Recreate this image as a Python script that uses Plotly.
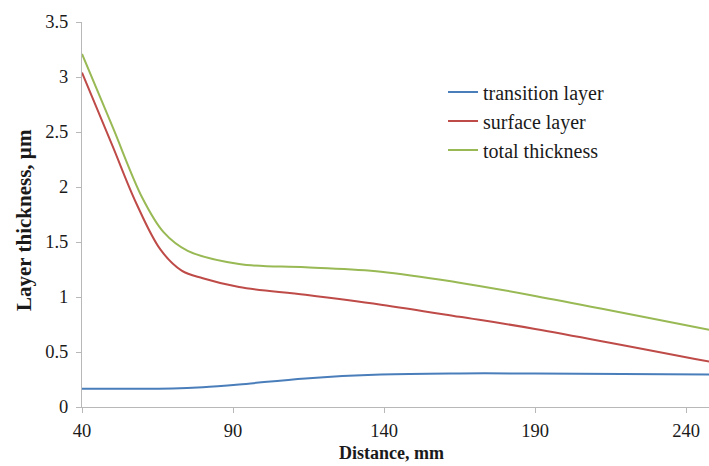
import plotly.graph_objects as go

# Measured layer thickness (µm) against distance (mm)
distance_tl = [40, 55, 70, 80, 92, 114, 139, 165, 190, 250]
transition_layer = [0.165, 0.165, 0.168, 0.18, 0.205, 0.26, 0.295, 0.305, 0.305, 0.295]

distance_sl = [40, 50, 58, 66, 73, 80, 92, 114, 139, 165, 190, 250]
surface_layer = [3.04, 2.38, 1.85, 1.43, 1.24, 1.17, 1.09, 1.02, 0.93, 0.82, 0.71, 0.40]

distance_tt = [40, 50, 60, 67, 75, 92, 114, 139, 165, 190, 250]
total_thickness = [3.21, 2.555, 1.90, 1.59, 1.42, 1.30, 1.27, 1.23, 1.13, 1.01, 0.69]

x_ticks = [40, 90, 140, 190, 240]
y_ticks = [0, 0.5, 1, 1.5, 2, 2.5, 3, 3.5]
y_tick_text = ["0", "0.5", "1", "1.5", "2", "2.5", "3", "3.5"]

FONT = "Liberation Serif"
TEXT = "#1a1a1a"
AXIS_GREY = "#b8b8b8"

series = [
    ("transition layer", distance_tl, transition_layer, "#4a7ebb"),
    ("surface layer", distance_sl, surface_layer, "#be4b48"),
    ("total thickness", distance_tt, total_thickness, "#98b954"),
]

fig = go.Figure()
for name, xs, values, color in series:
    fig.add_trace(go.Scatter(
        x=xs, y=values, name=name, mode="lines",
        line=dict(color=color, width=2, shape="spline", smoothing=1.0),
    ))

axis_common = dict(
    showline=True, linecolor=AXIS_GREY, linewidth=1,
    ticks="outside", ticklen=5, tickcolor=AXIS_GREY,
    showgrid=False, zeroline=False,
    tickfont=dict(family=FONT, size=18.5, color=TEXT),
)

fig.update_layout(
    width=709, height=466,
    margin=dict(l=82, r=0, t=22, b=59),
    paper_bgcolor="white", plot_bgcolor="white",
    font=dict(family=FONT, size=18, color=TEXT),
    showlegend=True,
    legend=dict(
        x=0.5758, y=0.8688, xanchor="left", yanchor="top",
        font=dict(family=FONT, size=20, color=TEXT),
        bgcolor="rgba(0,0,0,0)", itemwidth=30, tracegroupgap=0,
    ),
    xaxis=dict(range=[40, 247.6], tickvals=x_ticks,
               ticklabelstandoff=2, **axis_common),
    yaxis=dict(range=[0, 3.5], tickvals=y_ticks, ticktext=y_tick_text,
               ticklabelstandoff=4, **axis_common),
    annotations=[
        dict(text="<b>Distance, mm</b>", xref="paper", yref="paper",
             x=0.493, y=-0.1195, xanchor="center", yanchor="middle",
             showarrow=False, font=dict(family=FONT, size=18, color=TEXT)),
        dict(text="<b>Layer thickness, µm</b>", xref="paper", yref="paper",
             x=-0.0925, y=0.4857, xanchor="center", yanchor="middle",
             textangle=-90, showarrow=False,
             font=dict(family=FONT, size=21, color=TEXT)),
    ],
)

fig.write_html("out.html")
